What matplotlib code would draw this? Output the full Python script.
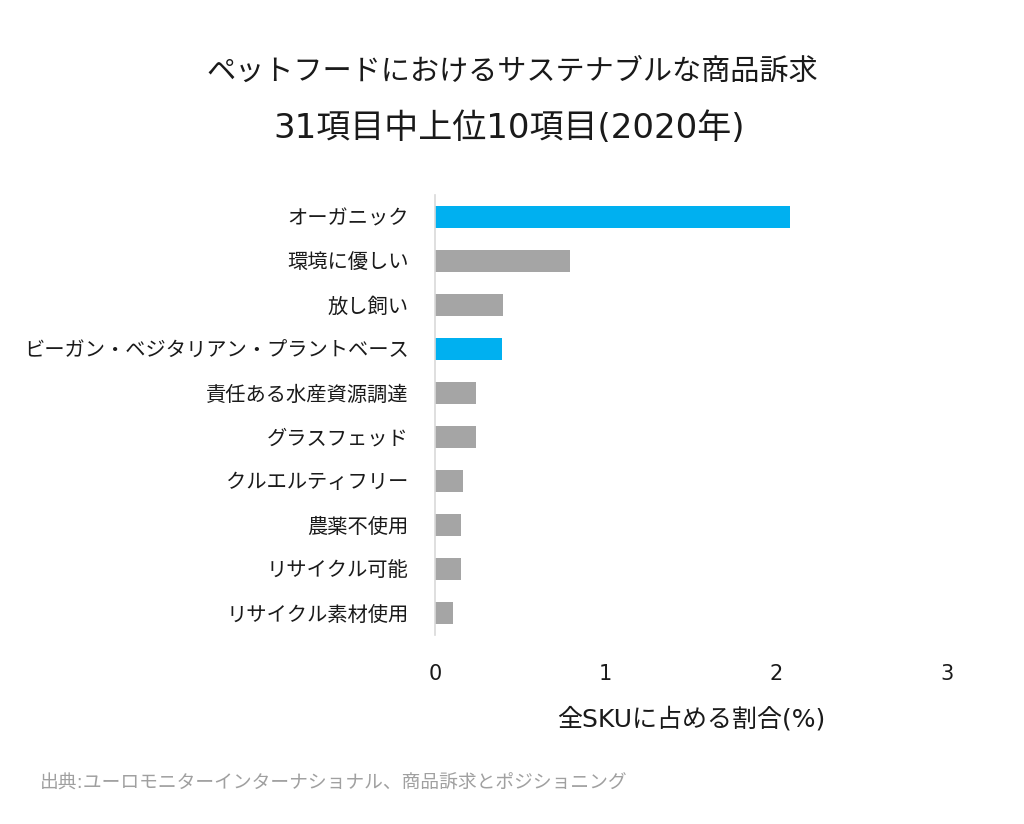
import matplotlib
matplotlib.use("Agg")
import matplotlib.pyplot as plt

plt.rcParams['font.family'] = ['DejaVu Sans', 'Noto Sans CJK JP']

categories = ["オーガニック", "環境に優しい", "放し飼い", "ビーガン・ベジタリアン・プラントベース",
              "責任ある水産資源調達", "グラスフェッド", "クルエルティフリー", "農薬不使用",
              "リサイクル可能", "リサイクル素材使用"]
values = [2.08, 0.79, 0.40, 0.39, 0.24, 0.24, 0.165, 0.15, 0.15, 0.105]
highlight = [True, False, False, True, False, False, False, False, False, False]
xticks = [0, 1, 2, 3]

title_line1 = "ペットフードにおけるサステナブルな商品訴求"
title_line2 = "31項目中上位10項目(2020年)"
xlabel = "全SKUに占める割合(%)"
source = "出典:ユーロモニターインターナショナル、商品訴求とポジショニング"

fig = plt.figure(figsize=(10.24, 8.24), dpi=100)
ax = fig.add_axes([435/1024, 1-635/824, (947-435)/1024, 440/824])

colors = ['#00B0F0' if h else '#A5A5A5' for h in highlight]
ypos = list(range(len(categories)))
ax.barh(ypos, values, height=0.5, color=colors)
ax.set_ylim(len(categories)-0.5, -0.5)
ax.set_xlim(0, 3)
ax.set_yticks(ypos)
ax.set_yticklabels(categories, fontsize=14.6, color='#1a1a1a')
ax.set_xticks(xticks)
ax.set_xticklabels([str(t) for t in xticks], fontsize=15, color='#1a1a1a')
ax.tick_params(axis='y', length=0, pad=19)
ax.tick_params(axis='x', length=0, pad=21)
for s in ['top', 'right', 'bottom']:
    ax.spines[s].set_visible(False)
ax.spines['left'].set_color('#D9D9D9')
ax.spines['left'].set_linewidth(1.2)

ax.set_xlabel(xlabel, fontsize=18, color='#1a1a1a', labelpad=16)

fig.text(512/1024, 1-72/824, title_line1, ha='center', va='center', fontsize=21,
         color='#1a1a1a')
fig.text(509/1024, 1-128/824, title_line2, ha='center', va='center', fontsize=24.5,
         color='#1a1a1a')
fig.text(40/1024, 1-783/824, source, ha='left', va='center', fontsize=13.5, color='#A0A0A0')

fig.savefig("out.png", dpi=100)
